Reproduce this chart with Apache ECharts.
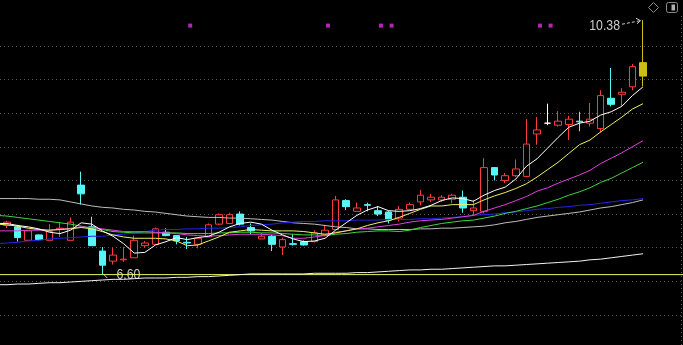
<!DOCTYPE html>
<html>
<head>
<meta charset="utf-8">
<script src="https://cdn.jsdelivr.net/npm/echarts@6/dist/echarts.min.js"></script>
<style>
html,body{margin:0;padding:0;background:#000;overflow:hidden;}
#c{width:683px;height:345px;}
</style>
</head>
<body>
<div id="c"></div>
<script>
// ---- data (61 daily bars) ----
const opens  = [7.33,7.31,7.11,7.19,7.11,7.28,7.11,7.93,7.31,6.95,6.80,6.82,6.85,7.03,7.05,7.23,7.18,7.08,7.05,7.16,7.35,7.36,7.50,7.30,7.13,7.17,7.01,7.06,7.09,7.09,7.19,7.27,7.70,7.54,7.64,7.55,7.53,7.44,7.57,7.68,7.71,7.71,7.72,7.75,7.55,7.54,8.19,8.00,8.07,8.06,8.69,8.85,8.82,8.83,8.88,8.85,8.77,9.22,9.28,9.39,9.75];
const closes = [7.38,7.15,7.25,7.12,7.24,7.29,7.38,7.80,7.03,6.74,6.89,6.83,7.11,7.07,7.28,7.18,7.10,7.07,7.14,7.34,7.49,7.49,7.35,7.25,7.17,7.05,7.12,7.05,7.04,7.22,7.26,7.71,7.61,7.59,7.63,7.50,7.41,7.57,7.64,7.78,7.75,7.75,7.78,7.59,7.59,8.19,8.08,8.07,8.17,8.54,8.75,8.85,8.88,8.91,8.87,8.91,9.26,9.13,9.31,9.69,9.55];
const lows   = [7.29,7.09,7.10,7.11,7.11,7.16,7.11,7.64,7.03,6.60,6.75,6.79,6.85,7.00,7.05,7.17,7.05,6.98,6.99,7.16,7.34,7.36,7.33,7.20,7.13,6.95,6.89,7.03,7.03,7.08,7.17,7.26,7.56,7.54,7.54,7.47,7.36,7.39,7.56,7.63,7.68,7.68,7.66,7.52,7.47,7.51,8.00,7.96,8.05,8.05,8.53,8.82,8.80,8.60,8.73,8.80,8.71,9.10,9.10,9.34,9.40];
const highs  = [7.40,7.34,7.26,7.20,7.35,7.38,7.45,8.13,7.46,7.01,7.00,7.01,7.18,7.10,7.30,7.29,7.19,7.16,7.16,7.36,7.51,7.52,7.54,7.36,7.22,7.19,7.15,7.20,7.11,7.26,7.34,7.77,7.72,7.67,7.67,7.62,7.55,7.62,7.67,7.86,7.80,7.78,7.80,7.85,7.71,8.33,8.20,8.11,8.31,8.91,8.94,9.14,9.03,8.96,9.02,9.15,9.34,9.67,9.37,9.73,10.38];

// moving averages: first value belongs to the bar just left of the visible window (bar -1)
const ma5   = [7.36,7.36,7.33,7.31,7.28,7.23,7.21,7.26,7.37,7.35,7.25,7.17,7.06,6.92,6.93,7.04,7.09,7.15,7.12,7.15,7.17,7.23,7.31,7.36,7.38,7.35,7.26,7.19,7.13,7.09,7.10,7.14,7.26,7.37,7.48,7.56,7.61,7.55,7.54,7.55,7.58,7.63,7.70,7.74,7.73,7.69,7.78,7.85,7.90,8.02,8.21,8.32,8.48,8.64,8.79,8.85,8.88,8.97,9.02,9.10,9.26,9.39];
const ma10  = [7.35,7.34,7.32,7.29,7.27,7.26,7.27,7.28,7.30,7.28,7.24,7.19,7.16,7.14,7.14,7.14,7.13,7.10,7.03,7.04,7.10,7.16,7.23,7.25,7.27,7.26,7.25,7.25,7.25,7.24,7.22,7.20,7.22,7.25,7.28,7.33,7.37,7.40,7.45,7.51,7.57,7.62,7.62,7.64,7.64,7.64,7.71,7.77,7.82,7.88,7.95,8.05,8.16,8.27,8.40,8.53,8.60,8.72,8.83,8.94,9.06,9.14];
const ma20  = [7.25,7.25,7.25,7.26,7.26,7.26,7.27,7.29,7.31,7.30,7.28,7.26,7.24,7.24,7.24,7.23,7.22,7.21,7.19,7.18,7.17,7.18,7.19,7.20,7.20,7.20,7.19,7.18,7.14,7.14,7.16,7.18,7.23,7.25,7.28,7.29,7.31,7.33,7.35,7.38,7.40,7.41,7.42,7.44,7.46,7.48,7.54,7.59,7.64,7.70,7.76,7.84,7.89,7.96,8.02,8.08,8.15,8.25,8.33,8.41,8.50,8.59];
const ma30  = [7.48,7.47,7.45,7.43,7.41,7.39,7.37,7.35,7.32,7.29,7.27,7.24,7.23,7.22,7.22,7.22,7.22,7.22,7.21,7.21,7.21,7.22,7.22,7.23,7.23,7.22,7.22,7.21,7.20,7.19,7.19,7.18,7.20,7.21,7.23,7.24,7.25,7.25,7.24,7.26,7.30,7.33,7.36,7.38,7.40,7.41,7.44,7.47,7.51,7.54,7.58,7.62,7.67,7.72,7.78,7.83,7.89,7.97,8.03,8.11,8.19,8.27];
const ma60  = [7.06,7.07,7.08,7.10,7.11,7.13,7.14,7.15,7.16,7.17,7.17,7.19,7.20,7.22,7.24,7.26,7.27,7.27,7.28,7.28,7.29,7.29,7.30,7.31,7.33,7.34,7.35,7.37,7.38,7.39,7.39,7.40,7.40,7.40,7.41,7.41,7.41,7.42,7.42,7.42,7.43,7.43,7.44,7.45,7.46,7.48,7.49,7.50,7.52,7.53,7.55,7.57,7.58,7.60,7.61,7.63,7.64,7.66,7.68,7.70,7.71,7.73];
const ma120 = [7.73,7.73,7.73,7.73,7.72,7.72,7.71,7.68,7.65,7.62,7.60,7.59,7.57,7.56,7.54,7.53,7.51,7.49,7.47,7.46,7.45,7.45,7.44,7.44,7.43,7.42,7.41,7.39,7.37,7.36,7.35,7.33,7.31,7.30,7.28,7.28,7.27,7.27,7.27,7.27,7.28,7.28,7.29,7.29,7.30,7.31,7.32,7.34,7.37,7.39,7.42,7.45,7.47,7.49,7.51,7.53,7.56,7.59,7.61,7.64,7.67,7.71];
const ma250 = [6.45,6.45,6.46,6.46,6.47,6.48,6.48,6.49,6.50,6.51,6.52,6.53,6.53,6.54,6.55,6.55,6.55,6.56,6.56,6.57,6.57,6.58,6.59,6.60,6.61,6.61,6.61,6.61,6.61,6.61,6.62,6.62,6.62,6.62,6.63,6.63,6.64,6.65,6.66,6.67,6.67,6.68,6.68,6.69,6.70,6.71,6.72,6.73,6.73,6.74,6.75,6.76,6.77,6.78,6.79,6.80,6.82,6.83,6.85,6.87,6.89,6.91];

const signalBars = [17, 30, 35, 36, 50, 51];   // bars carrying a magenta marker
const signalLevel = 10.30;
const lowLevel = 6.60;                          // horizontal yellow line
const yMin = 6.0, yMax = 10.5, yStep = 0.5;

const categories = opens.map((_, i) => String(i + 1));

// ---- layout: bar i centred at 7 + 10.6*i px ----
const BAR0 = 7, STEP = 10.6, W = 683;
const gridLeft = BAR0 - STEP / 2;
const gridRight = W - (gridLeft + STEP * opens.length);
const fullMin = -BAR0 / STEP, fullMax = (W - BAR0) / STEP;

const UP = '#ff3b3b', DOWN = '#55f7f7', LAST = '#cdbd17';
const candleData = opens.map((o, i) => {
  const v = [o, closes[i], lows[i], highs[i]];
  if (i === opens.length - 1) {
    return {value: v, itemStyle: {color: LAST, color0: LAST, borderColor: LAST, borderColor0: LAST}};
  }
  return v;
});

function maSeries(name, data, color) {
  return {name, type: 'line', xAxisIndex: 1, yAxisIndex: 1,
          data: data.map((v, k) => [k - 1, v]), symbol: 'none',
          silent: true, lineStyle: {color, width: 1}, z: 3};
}

const chart = echarts.init(document.getElementById('c'));
chart.setOption({
  backgroundColor: '#000',
  animation: false,
  grid: [
    {left: gridLeft, right: gridRight, top: 12.15, bottom: 30},
    {left: 0, right: 0, top: 12.15, bottom: 30}
  ],
  xAxis: [
    {type: 'category', data: categories, gridIndex: 0, boundaryGap: true, show: false},
    {type: 'value', gridIndex: 1, min: fullMin, max: fullMax, show: false}
  ],
  yAxis: [
    {type: 'value', gridIndex: 0, min: yMin, max: yMax, interval: yStep, show: false},
    {type: 'value', gridIndex: 1, min: yMin, max: yMax, interval: yStep,
     axisLine: {show: false}, axisTick: {show: false}, axisLabel: {show: false},
     splitLine: {show: true, showMinLine: true, showMaxLine: false,
                 lineStyle: {color: '#5a5a5a', width: 1, type: [1, 3]}}}
  ],
  series: [
    {type: 'line', xAxisIndex: 1, yAxisIndex: 1, data: [[fullMin, lowLevel], [fullMax, lowLevel]],
     symbol: 'none', silent: true, lineStyle: {color: '#f2f25a', width: 1}, z: 1},
    {type: 'candlestick', xAxisIndex: 0, yAxisIndex: 0, data: candleData, barWidth: 7, z: 2,
     itemStyle: {color: '#000', color0: DOWN, borderColor: UP, borderColor0: DOWN,
                 borderColorDoji: '#ffffff', borderWidth: 1}},
    maSeries('MA250', ma250, '#f2f2f2'),
    maSeries('MA120', ma120, '#bdbdbd'),
    maSeries('MA60', ma60, '#2424e6'),
    maSeries('MA30', ma30, '#3ed63e'),
    maSeries('MA20', ma20, '#e03fe0'),
    maSeries('MA10', ma10, '#f0f060'),
    maSeries('MA5', ma5, '#ffffff'),
    {type: 'scatter', xAxisIndex: 0, yAxisIndex: 0, symbol: 'rect', symbolSize: 4,
     symbolOffset: [3, 0], silent: true, z: 4,
     itemStyle: {color: '#e030e0'},
     data: signalBars.map(i => [i, signalLevel])}
  ]
});

// ---- annotations for highest high and lowest low ----
const hiVal = Math.max(...highs), hiIdx = highs.indexOf(hiVal);
const loVal = Math.min(...lows), loIdx = lows.indexOf(loVal);
const hp = chart.convertToPixel({gridIndex: 0}, [hiIdx, hiVal]);
const lp = chart.convertToPixel({gridIndex: 0}, [loIdx, loVal]);
const TXT = '#cccccc';
const FONT = '15px "Liberation Sans", Arial, sans-serif';
const NARROW = 0.82;

chart.setOption({
  graphic: [
    {type: 'text', x: hp[0] - 23, y: hp[1] + 6, scaleX: NARROW, silent: true,
     style: {text: hiVal.toFixed(2), fill: TXT, font: FONT, align: 'right', verticalAlign: 'middle'}},
    {type: 'line', silent: true, shape: {x1: hp[0] - 21, y1: hp[1] + 4, x2: hp[0] - 3, y2: hp[1] + 0.5},
     style: {stroke: TXT, lineWidth: 1, lineDash: [3, 2]}},
    {type: 'polyline', silent: true,
     shape: {points: [[hp[0] - 7, hp[1] - 2], [hp[0] - 2.5, hp[1] + 0.5], [hp[0] - 6, hp[1] + 3.5]]},
     style: {stroke: TXT, lineWidth: 1, fill: null}},
    {type: 'text', x: lp[0] + 14, y: lp[1] + 0.5, scaleX: NARROW, silent: true,
     style: {text: loVal.toFixed(2), fill: TXT, font: FONT, align: 'left', verticalAlign: 'middle'}},
    {type: 'line', silent: true, shape: {x1: lp[0] + 0.5, y1: lp[1] - 1, x2: lp[0] + 5, y2: lp[1] + 3.5},
     style: {stroke: TXT, lineWidth: 1}},
    // top-right tool icons and right frame
    {type: 'polygon', silent: true,
     shape: {points: [[653.5, 2.5], [658.5, 7.5], [653.5, 12.5], [648.5, 7.5]]},
     style: {stroke: '#8c8c8c', fill: null, lineWidth: 1}},
    {type: 'rect', silent: true, shape: {x: 666.5, y: 2.5, width: 11, height: 10, r: 2},
     style: {stroke: '#8c8c8c', fill: null, lineWidth: 1}},
    {type: 'rect', silent: true, shape: {x: 671.5, y: 4.5, width: 3.5, height: 6},
     style: {fill: '#b0b0b0'}},
    {type: 'line', silent: true, shape: {x1: 681.5, y1: 16, x2: 681.5, y2: 345},
     style: {stroke: '#5a5a5a', lineWidth: 1, lineDash: [1, 3]}}
  ]
});
</script>
</body>
</html>
